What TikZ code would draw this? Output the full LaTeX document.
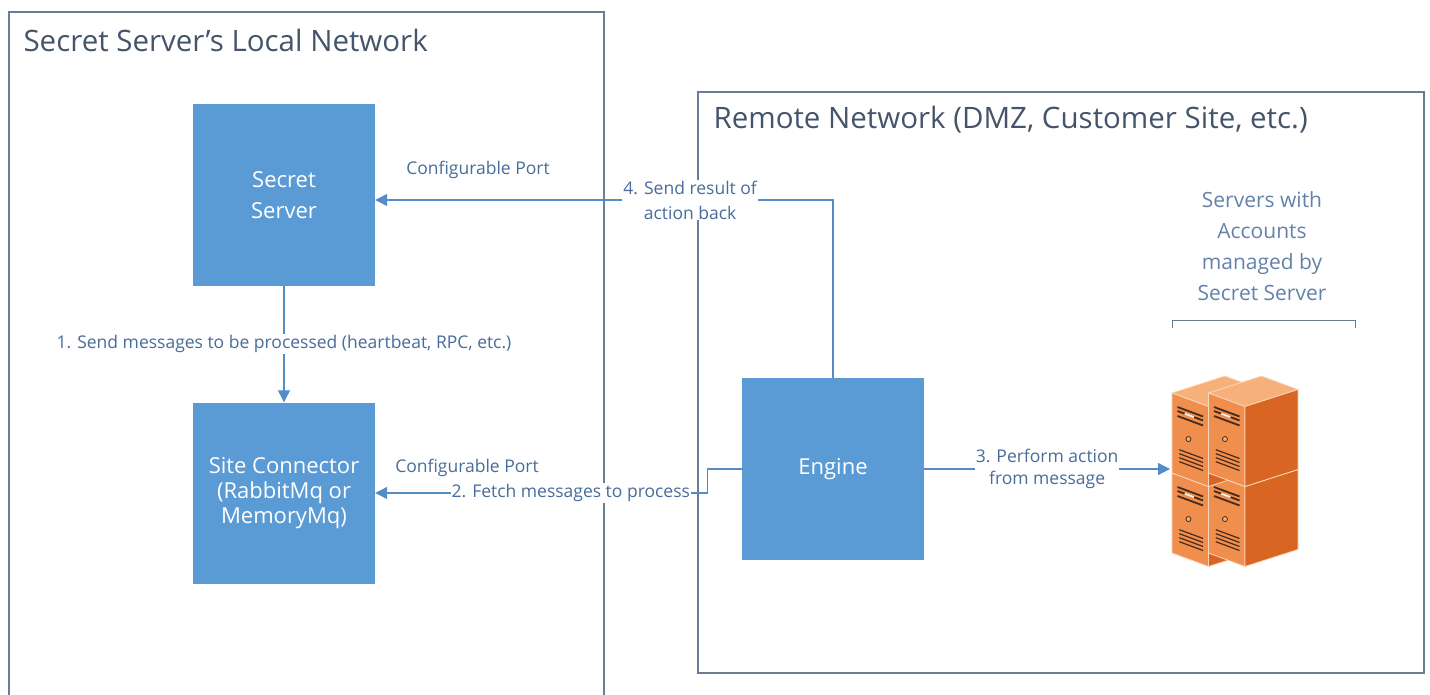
\documentclass[tikz,border=0pt]{standalone}
\usepackage{fontspec}
\setmainfont{Open Sans}
\usepackage{tikz}
\usetikzlibrary{arrows.meta, calc, positioning}

\definecolor{boxblue}{RGB}{91,155,213}
\definecolor{linkblue}{RGB}{84,140,200}
\definecolor{framegray}{RGB}{105,125,148}
\definecolor{titlegray}{RGB}{68,84,106}
\definecolor{labelblue}{RGB}{72,108,155}
\definecolor{srvtop}{RGB}{246,176,122}
\definecolor{srvfront}{RGB}{240,142,78}
\definecolor{srvside}{RGB}{216,102,34}
\definecolor{srvdark}{RGB}{72,42,26}

\tikzset{
  netbox/.style={draw=framegray, line width=1.2pt},
  block/.style={fill=boxblue, text=white, inner sep=0pt, minimum width=182pt, minimum height=181pt, align=center},
  link/.style={draw=linkblue, line width=1.2pt, -{Triangle[length=12pt,width=12pt]}},
  lbl/.style={text=labelblue, fill=white, inner sep=1pt, align=center},
  note/.style={text=labelblue, font=\fontsize{17.5}{20}\selectfont},
}

\begin{document}
\begin{tikzpicture}[x=1pt, y=-1pt]
\useasboundingbox (0,0) rectangle (1430,695);
\draw[netbox] (9,695) -- (9,12) -- (604,12) -- (604,695);
\draw[netbox] (698,92) rectangle (1424,673);
\node[anchor=west, text=titlegray, font=\fontsize{29.5}{34}\selectfont] (ltitle) at (20,40) {Secret Server’s Local Network};
\node[anchor=west, text=titlegray, font=\fontsize{29.5}{34}\selectfont] (rtitle) at (710,120) {Remote Network (DMZ, Customer Site, etc.)};

\node[block, font=\fontsize{22}{31}\selectfont] (ss) at (284,195) {Secret\\Server};
\node[block, font=\fontsize{22}{25}\selectfont] (sc) at (284,493) {Site Connector\\(RabbitMq or\\MemoryMq)};
\node[block, minimum height=182pt, font=\fontsize{22}{25}\selectfont] (eng) at (833,469) {Engine};

\draw[link] (ss) -- (sc) node[lbl, midway, font=\fontsize{17.5}{20}\selectfont] {1. Send messages to be processed (heartbeat, RPC, etc.)};
\draw[link] (eng.north) |- ([yshift=-5pt]ss.east) node[lbl, pos=0.656, font=\fontsize{17.5}{25}\selectfont] {4. Send result of\\action back};
\draw[link] (eng.west) -- ++(-34,0) |- (sc.east) node[lbl, pos=0.706, font=\fontsize{17.5}{20}\selectfont] {2. Fetch messages to process};
\node[note] (cp1) at (478,170) {Configurable Port};
\node[note] (cp2) at (467,468) {Configurable Port};

\coordinate (srvin) at (1170,469);
\draw[link] (eng.east) -- (srvin) node[lbl, midway, font=\fontsize{17.5}{22}\selectfont] {3. Perform action\\from message};

\node[text=labelblue!85, align=center, font=\fontsize{21}{31}\selectfont] (srvtxt) at (1262,246) {Servers with\\Accounts\\managed by\\Secret Server};
\draw[framegray, line width=1pt] (1172,328) |- (1355,320) -- (1355,328);

% server stack
\foreach \r in {1,0} {
  \foreach \c in {0,1} {
    \begin{scope}[shift={({1172+36.5*\c},{393+80*\r})}, x={(36.5pt,-13.5pt)}, y={(0pt,-1pt)}]
      \filldraw[fill=srvtop, draw=srvtop!50!white, line width=0.8pt] (0,0) -- (1,0) -- ++(53pt,17pt) -- ++(-36.5pt,13.5pt) -- cycle;
      \filldraw[fill=srvfront, draw=srvtop!50!white, line width=0.8pt] (0,0) -- (1,0) -- (1,80) -- (0,80) -- cycle;
      \filldraw[fill=srvside, draw=srvtop!50!white, line width=0.8pt] (1,0) -- ++(53pt,17pt) -- ++(0pt,-80pt) -- (1,80) -- cycle;
      \foreach \v in {12,16,21} \draw[srvdark, line width=1.8pt] (0.15,\v) -- (0.85,\v);
      \draw[white!85!srvfront, line width=2pt] (0.35,16) -- (0.6,16);
      \filldraw[fill=srvtop, draw=srvdark, line width=0.8pt] (0.45,40) circle (2.5pt);
      \foreach \v in {54,58,62,66} \draw[srvdark, line width=1.2pt] (0.2,\v) -- (0.85,\v);
    \end{scope}
  }
}
\end{tikzpicture}
\end{document}
